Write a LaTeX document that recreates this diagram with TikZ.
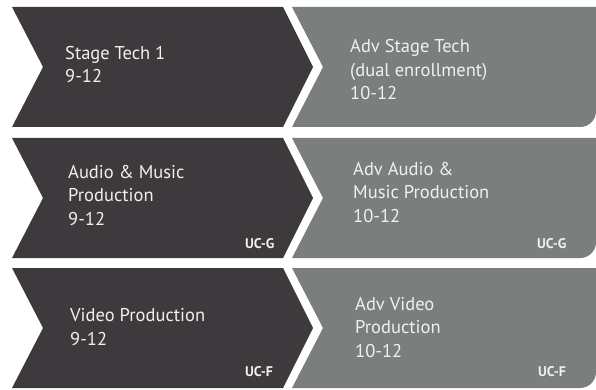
\documentclass[tikz,border=0pt]{standalone}
\usepackage{fontspec}
\setmainfont{PT Sans}
\definecolor{darkc}{HTML}{3D393D}
\definecolor{grayc}{HTML}{7A7F7E}
\definecolor{txtc}{HTML}{F0F0F0}
\tikzset{
  darkarrow/.style={fill=darkc},
  grayarrow/.style={fill=grayc},
  label/.style={anchor=base west, inner sep=0pt, text=txtc, align=left,
    font=\fontsize{18.5}{23.5}\selectfont},
  uclabel/.style={anchor=base west, inner sep=0pt, text=txtc,
    font=\fontsize{14}{16}\selectfont\bfseries}
}
\newcommand{\rowshapes}[1]{%
  \fill[darkarrow] (12,#1) -- (283,#1) -- (313,#1+60) -- (283,#1+120) -- (12,#1+120) -- (43,#1+60) -- cycle;
  \fill[grayarrow] (292,#1) -- (596,#1) -- (596,#1+104) .. controls (596,#1+113) and (589,#1+120) .. (580,#1+120) -- (292,#1+120) -- (323,#1+60) -- cycle;
}
\begin{document}
\begin{tikzpicture}[x=1pt,y=-1pt]
\useasboundingbox (0,0) rectangle (596,390);
\fill[white] (0,0) rectangle (596,390);
\rowshapes{7}
\rowshapes{138}
\rowshapes{268}
\node[label] (l1) at (65,83) {Stage Tech 1\\9-12};
\node[label] (r1) at (350,100) {Adv Stage Tech\\(dual enrollment)\\10-12};
\node[label] (l2) at (68,225) {Audio \& Music\\Production\\9-12};
\node[label] (r2) at (353,222) {Adv Audio \&\\Music Production\\10-12};
\node[label] (l3) at (70,345) {Video Production\\9-12};
\node[label] (r3) at (355,357) {Adv Video\\Production\\10-12};
\node[uclabel] (u2l) at (245,248) {UC-G};
\node[uclabel] (u2r) at (537,248) {UC-G};
\node[uclabel] (u3l) at (245,376) {UC-F};
\node[uclabel] (u3r) at (538,376) {UC-F};
\end{tikzpicture}
\end{document}
